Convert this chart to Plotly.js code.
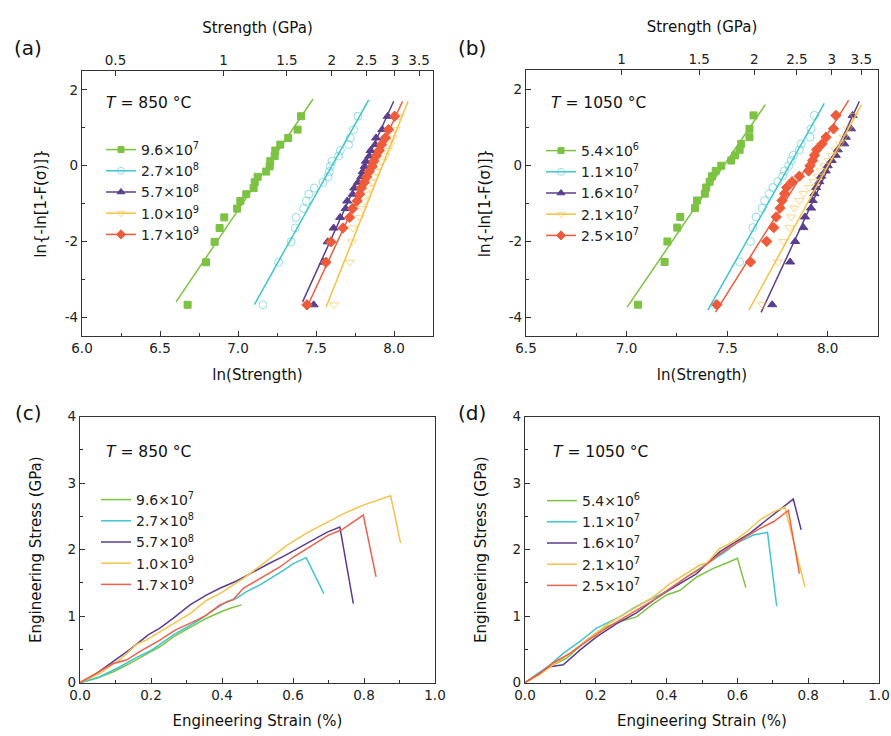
<!DOCTYPE html>
<html><head><meta charset="utf-8">
<script src="https://cdn.plot.ly/plotly-3.0.1.min.js"></script>
<style>html,body{margin:0;padding:0;background:#fff}#chart{width:891px;height:736px}</style>
</head><body><div id="chart"></div>
<script>
// ---------- DATA ----------
// Weibull plot ordinate ln{-ln[1-F(σ)]} (20 specimens per series)
const lnF = [-3.676,-2.552,-2.013,-1.648,-1.367,-1.134,-0.934,-0.755,-0.592,-0.439,-0.295,-0.156,-0.019,0.117,0.255,0.400,0.556,0.732,0.952,1.305];

// (a) T = 850 °C : ln(Strength, MPa)
const labelsA = ['9.6×10<sup>7</sup>','2.7×10<sup>8</sup>','5.7×10<sup>8</sup>','1.0×10<sup>9</sup>','1.7×10<sup>9</sup>'];
const a_green  = [6.677,6.795,6.850,6.882,6.912,6.994,7.015,7.053,7.100,7.107,7.126,7.181,7.203,7.207,7.235,7.239,7.271,7.322,7.382,7.404];
const a_cyan   = [7.160,7.260,7.340,7.367,7.372,7.421,7.438,7.453,7.489,7.545,7.577,7.585,7.592,7.603,7.645,7.656,7.709,7.720,7.741,7.769];
const a_purple = [7.485,7.549,7.575,7.613,7.655,7.690,7.700,7.735,7.745,7.770,7.790,7.800,7.812,7.820,7.842,7.850,7.880,7.885,7.925,7.960];
const a_yellow = [7.617,7.716,7.731,7.737,7.780,7.800,7.810,7.830,7.845,7.860,7.875,7.890,7.905,7.925,7.945,7.960,7.975,7.990,8.010,8.035];
const a_red    = [7.442,7.564,7.596,7.673,7.716,7.735,7.763,7.780,7.790,7.810,7.825,7.840,7.860,7.870,7.885,7.905,7.920,7.945,7.965,8.004];
// fitted lines (a): [x0,x1], [y0,y1]
const a_fitX = [[6.603,7.481],[7.105,7.838],[7.414,7.998],[7.564,8.090],[7.442,8.055]];
const a_fitY = [[-3.60,1.76],[-3.67,1.74],[-3.60,1.70],[-3.74,1.70],[-3.74,1.70]];

// (b) T = 1050 °C
const labelsB = ['5.4×10<sup>6</sup>','1.1×10<sup>7</sup>','1.6×10<sup>7</sup>','2.1×10<sup>7</sup>','2.5×10<sup>7</sup>'];
const b_green  = [7.057,7.189,7.203,7.252,7.267,7.340,7.350,7.389,7.396,7.413,7.424,7.443,7.471,7.520,7.540,7.562,7.570,7.611,7.611,7.631];
const b_cyan   = [7.440,7.562,7.616,7.628,7.644,7.674,7.686,7.710,7.727,7.752,7.776,7.785,7.806,7.818,7.829,7.859,7.868,7.912,7.917,7.934];
const b_purple = [7.724,7.813,7.838,7.879,7.887,7.917,7.925,7.934,7.942,7.958,7.967,7.990,8.000,8.020,8.040,8.050,8.082,8.090,8.116,8.124];
const b_yellow = [7.674,7.752,7.780,7.810,7.818,7.834,7.859,7.880,7.909,7.930,7.950,7.965,7.985,8.005,8.020,8.040,8.060,8.080,8.100,8.130];
const b_red    = [7.449,7.616,7.697,7.732,7.744,7.763,7.773,7.785,7.796,7.823,7.859,7.905,7.912,7.925,7.934,7.945,7.972,7.992,8.029,8.041];
const b_fitX = [[7.003,7.690],[7.404,7.983],[7.669,8.157],[7.608,8.168],[7.442,8.104]];
const b_fitY = [[-3.74,1.59],[-3.82,1.62],[-3.88,1.67],[-3.82,1.59],[-3.87,1.70]];

// top axis tick labels (Strength, GPa)
const topTicksA = [0.5,1,1.5,2,2.5,3,3.5];
const topTicksB = [1,1.5,2,2.5,3,3.5];

// (c) stress–strain, T = 850 °C : strain (%), stress (GPa)
const c_green_x  = [0,0.047,0.094,0.141,0.202,0.225,0.263,0.31,0.357,0.394,0.423,0.455];
const c_green_y  = [0,0.065,0.165,0.29,0.476,0.54,0.69,0.83,0.97,1.06,1.12,1.17];
const c_cyan_x   = [0,0.056,0.113,0.16,0.202,0.23,0.263,0.3,0.338,0.376,0.413,0.441,0.469,0.507,0.545,0.573,0.601,0.637,0.687];
const c_cyan_y   = [0,0.09,0.24,0.38,0.49,0.59,0.72,0.83,0.95,1.09,1.22,1.27,1.37,1.47,1.59,1.69,1.79,1.88,1.34];
const c_purple_x = [0,0.047,0.094,0.141,0.192,0.225,0.263,0.31,0.357,0.394,0.441,0.488,0.535,0.573,0.61,0.657,0.695,0.732,0.77];
const c_purple_y = [0,0.14,0.32,0.50,0.72,0.82,0.97,1.17,1.32,1.42,1.53,1.67,1.80,1.90,2.01,2.15,2.26,2.34,1.19];
const c_yellow_x = [0,0.056,0.113,0.16,0.183,0.225,0.263,0.31,0.357,0.394,0.423,0.46,0.516,0.582,0.638,0.695,0.746,0.798,0.845,0.875,0.903];
const c_yellow_y = [0,0.14,0.35,0.58,0.63,0.77,0.89,1.04,1.24,1.34,1.44,1.57,1.79,2.06,2.25,2.41,2.55,2.67,2.76,2.81,2.10];
const c_red_x    = [0,0.047,0.094,0.131,0.169,0.225,0.268,0.329,0.357,0.394,0.432,0.46,0.507,0.563,0.601,0.657,0.70,0.737,0.77,0.798,0.834];
const c_red_y    = [0,0.14,0.29,0.34,0.47,0.64,0.79,0.94,1.02,1.17,1.25,1.42,1.57,1.74,1.89,2.07,2.22,2.30,2.42,2.52,1.59];

// (d) stress–strain, T = 1050 °C
const d_green_x  = [0,0.042,0.08,0.118,0.174,0.221,0.268,0.315,0.363,0.4,0.438,0.485,0.532,0.57,0.60,0.624];
const d_green_y  = [0,0.14,0.27,0.37,0.64,0.82,0.92,0.99,1.19,1.32,1.39,1.59,1.72,1.80,1.87,1.43];
const d_cyan_x   = [0,0.033,0.071,0.108,0.155,0.202,0.268,0.306,0.348,0.381,0.419,0.457,0.485,0.523,0.56,0.598,0.645,0.685,0.711];
const d_cyan_y   = [0,0.12,0.27,0.44,0.62,0.82,0.99,1.12,1.24,1.32,1.44,1.59,1.69,1.82,1.95,2.10,2.22,2.26,1.15];
const d_purple_x = [0,0.042,0.071,0.108,0.155,0.202,0.259,0.315,0.363,0.4,0.438,0.485,0.513,0.551,0.589,0.636,0.683,0.73,0.758,0.78];
const d_purple_y = [0,0.14,0.24,0.27,0.49,0.69,0.89,1.05,1.24,1.37,1.49,1.64,1.79,1.97,2.10,2.25,2.45,2.64,2.76,2.30];
const d_yellow_x = [0,0.042,0.08,0.127,0.174,0.231,0.268,0.315,0.363,0.41,0.457,0.494,0.513,0.551,0.589,0.626,0.664,0.702,0.734,0.791];
const d_yellow_y = [0,0.12,0.27,0.44,0.64,0.87,0.99,1.14,1.29,1.49,1.64,1.77,1.80,2.02,2.12,2.27,2.45,2.57,2.64,1.44];
const d_red_x    = [0,0.042,0.08,0.127,0.174,0.221,0.268,0.315,0.363,0.41,0.457,0.504,0.551,0.589,0.626,0.664,0.702,0.744,0.775];
const d_red_y    = [0,0.14,0.30,0.44,0.62,0.79,0.94,1.09,1.24,1.42,1.59,1.74,1.94,2.07,2.20,2.32,2.42,2.59,1.64];

// ---------- STYLE ----------
const F = 'DejaVu Sans, Verdana, sans-serif';
const COL = ['#7DC243','#3EC5CF','#5A3F8E','#F5C243','#EE5B3B'];
const SSCOL = ['#7DC243','#3EC5CF','#5B3D8F','#F5C34A','#F0604A'];
const SYM = ['square','circle-open','triangle-up','triangle-down-open','diamond'];
const MSIZE = [7,8,8,8,8];
const MOP = [1,0.55,1,0.6,1];

const traces = [];
function weibull(xs, fitX, fitY, labels, xa, ya, leg) {
  xs.forEach((x, i) => {
    traces.push({type:'scatter', mode:'markers', x:x, y:lnF, xaxis:xa, yaxis:ya, showlegend:false, hoverinfo:'x+y',
      marker:{symbol:SYM[i], size:MSIZE[i], color:COL[i], opacity:MOP[i], line:{color:COL[i], width:1}}});
    traces.push({type:'scatter', mode:'lines', x:fitX[i], y:fitY[i], xaxis:xa, yaxis:ya, showlegend:false,
      line:{color:COL[i], width:1.5}, hoverinfo:'skip'});
    traces.push({type:'scatter', mode:'lines+markers', x:[null], y:[null], xaxis:xa, yaxis:ya, legend:leg, name:labels[i],
      line:{color:COL[i], width:1.5}, marker:{symbol:SYM[i], size:MSIZE[i]-1, color:COL[i], opacity:MOP[i], line:{color:COL[i], width:1}}});
  });
}
weibull([a_green,a_cyan,a_purple,a_yellow,a_red], a_fitX, a_fitY, labelsA, 'x', 'y', 'legend');
weibull([b_green,b_cyan,b_purple,b_yellow,b_red], b_fitX, b_fitY, labelsB, 'x2', 'y2', 'legend2');

// carrier traces so the top (Strength, GPa) axes are created; they draw nothing
traces.push({type:'scatter', mode:'markers', x:topTicksA, y:topTicksA.map(() => null), xaxis:'x5', yaxis:'y', showlegend:false, hoverinfo:'skip'});
traces.push({type:'scatter', mode:'markers', x:topTicksB, y:topTicksB.map(() => null), xaxis:'x6', yaxis:'y2', showlegend:false, hoverinfo:'skip'});

function ss(xs, ys, labels, xa, ya, leg) {
  xs.forEach((x, i) => {
    traces.push({type:'scatter', mode:'lines', x:x, y:ys[i], xaxis:xa, yaxis:ya, legend:leg, name:labels[i],
      line:{color:SSCOL[i], width:1.5}});
  });
}
ss([c_green_x,c_cyan_x,c_purple_x,c_yellow_x,c_red_x],[c_green_y,c_cyan_y,c_purple_y,c_yellow_y,c_red_y], labelsA, 'x3','y3','legend3');
ss([d_green_x,d_cyan_x,d_purple_x,d_yellow_x,d_red_x],[d_green_y,d_cyan_y,d_purple_y,d_yellow_y,d_red_y], labelsB, 'x4','y4','legend4');

function ax(extra) {
  return Object.assign({showline:true, linecolor:'#333', linewidth:1.2, mirror:true, ticks:'inside', ticklen:5,
    tickcolor:'#333', tickwidth:1.1, showgrid:false, zeroline:false,
    tickfont:{family:F, size:13.5, color:'#222'}}, extra);
}
const ttl = (t, s) => ({text:t, font:{family:F, size:15, color:'#111'}, standoff:s});
const minor = (d) => ({ticks:'inside', ticklen:3, tickcolor:'#333', tickwidth:1, dtick:d, showgrid:false});
const wY = {tickmode:'array', tickvals:[-4,-2,0,2], ticktext:['-4','-2','0','2'], range:[-4.5,2.5], minor:Object.assign(minor(1),{tickmode:'linear', tick0:-5})};

const legBase = {font:{family:F, size:14, color:'#222'}, bgcolor:'rgba(0,0,0,0)', borderwidth:0, xanchor:'left', yanchor:'top', tracegroupgap:0, itemwidth:30};

const ann = [];
const lab = (t, x, y) => ann.push({text:t, x:x/891, y:1-y/736, xref:'paper', yref:'paper', showarrow:false, xanchor:'center', yanchor:'middle', font:{family:F, size:20, color:'#111'}});
const temp = (t, x, y) => ann.push({text:t, x:x/891, y:1-y/736, xref:'paper', yref:'paper', showarrow:false, xanchor:'left', yanchor:'middle', font:{family:F, size:15.5, color:'#111'}});
lab('(a)', 28, 48); lab('(b)', 472, 48); lab('(c)', 29, 413); lab('(d)', 472, 413);
temp('<i>T</i> = 850 °C', 104, 103); temp('<i>T</i> = 1050 °C', 549, 103);
temp('<i>T</i> = 850 °C', 104, 452); temp('<i>T</i> = 1050 °C', 551, 452);

const layout = {
  width:891, height:736, margin:{l:0, r:0, t:0, b:0}, paper_bgcolor:'#fff', plot_bgcolor:'#fff',
  font:{family:F, color:'#222'},
  xaxis: ax({domain:[82/891, 433/891], anchor:'y', range:[6,8.25], tick0:6, dtick:0.5, tickformat:'.1f', minor:minor(0.25), title:ttl('ln(Strength)', 14)}),
  yaxis: ax(Object.assign({domain:[1-336/736, 1-71/736], anchor:'x', title:ttl('ln{-ln[1-F(σ)]}', 14)}, wY)),
  xaxis5: ax({overlaying:'x', side:'top', anchor:'y', type:'log', mirror:false,
    range:[Math.log10(Math.exp(6)/1000), Math.log10(Math.exp(8.25)/1000)], autorange:false,
    tickmode:'array', tickvals:topTicksA, ticktext:topTicksA.map(String), title:ttl('Strength (GPa)', 14)}),
  xaxis2: ax({domain:[526/891, 878/891], anchor:'y2', range:[6.5,8.25], tick0:6.5, dtick:0.5, tickformat:'.1f', minor:minor(0.25), title:ttl('ln(Strength)', 14)}),
  yaxis2: ax(Object.assign({domain:[1-336/736, 1-70/736], anchor:'x2', title:ttl('ln{-ln[1-F(σ)]}', 14)}, wY)),
  xaxis6: ax({overlaying:'x2', side:'top', anchor:'y2', type:'log', mirror:false,
    range:[-0.2170, 0.5819], autorange:false, tickmode:'array', tickvals:topTicksB, ticktext:topTicksB.map(String), title:ttl('Strength (GPa)', 14)}),
  xaxis3: ax({domain:[80/891, 435/891], anchor:'y3', range:[0,1], dtick:0.2, tickformat:'.1f', minor:minor(0.1), title:ttl('Engineering Strain (%)', 13)}),
  yaxis3: ax({domain:[1-682.7/736, 1-416.7/736], anchor:'x3', range:[0,4], dtick:1, minor:minor(0.5), title:ttl('Engineering Stress (GPa)', 22)}),
  xaxis4: ax({domain:[525/891, 879/891], anchor:'y4', range:[0,1], dtick:0.2, tickformat:'.1f', minor:minor(0.1), title:ttl('Engineering Strain (%)', 13)}),
  yaxis4: ax({domain:[1-682.7/736, 1-416.7/736], anchor:'x4', range:[0,4], dtick:1, minor:minor(0.5), title:ttl('Engineering Stress (GPa)', 22)}),
  legend:  Object.assign({x:101/891, y:1-134/736}, legBase),
  legend2: Object.assign({x:541/891, y:1-135/736}, legBase),
  legend3: Object.assign({x:96/891, y:1-484/736}, legBase),
  legend4: Object.assign({x:542/891, y:1-485/736}, legBase),
  annotations: ann,
  showlegend:true
};
Plotly.newPlot('chart', traces, layout, {displayModeBar:false, responsive:false});
</script>
</body></html>
